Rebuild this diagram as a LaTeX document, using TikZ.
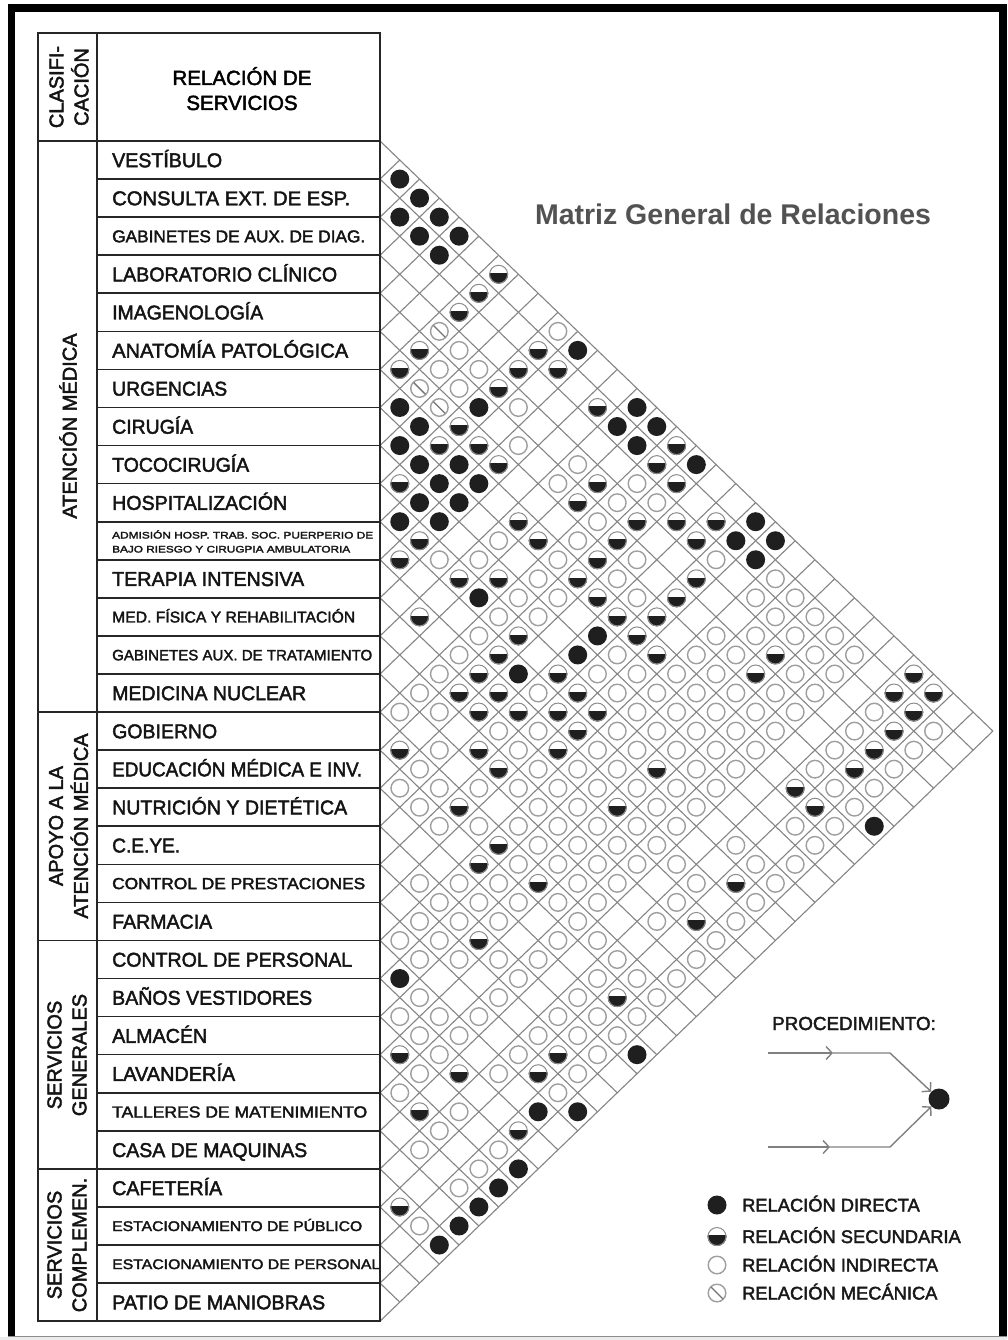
\documentclass[tikz,border=0pt]{standalone}
\usepackage{fontspec}
\usepackage{graphicx}
\setmainfont{Liberation Sans}
\newfontfamily\lf{Liberation Sans}[FakeBold=2.2]
\usetikzlibrary{arrows.meta}
\newcommand\lbl[3]{{\lf\fontsize{#1}{#1}\selectfont\resizebox{#2pt}{\height}{#3}}}
\newcommand\symB[2]{\fill[black!88] (#1,#2) circle[radius=9.5pt];}
\newcommand\symW[2]{\draw[black!38,line width=1.4pt] (#1,#2) circle[radius=8.8pt];}
\newcommand\symH[2]{\begin{scope}\clip (#1-11,#2-0.8) rectangle (#1+11,#2+11);\fill[black!88] (#1,#2) circle[radius=9.5pt];\end{scope}\draw[black!45,line width=1pt] (#1,#2) circle[radius=9pt];}
\newcommand\symM[2]{\draw[black!38,line width=1.4pt] (#1,#2) circle[radius=8.8pt];\draw[black!55,line width=1.3pt] (#1-5.8,#2-5.8) -- (#1+5.8,#2+5.8);}
\begin{document}
\begin{tikzpicture}[x=1pt,y=-1pt,
  tline/.style={line width=1.6pt,black!85},
  gline/.style={line width=1.1pt,black!48},
  rowlbl/.style={anchor=base west,inner sep=0pt,text=black!92},
  clslbl/.style={rotate=90,align=center,inner sep=0pt,text=black!92,font=\lf\fontsize{20}{25}\selectfont},
  legtxt/.style={anchor=base west,inner sep=0pt,text=black!90,font=\lf\fontsize{18.3}{18.3}\selectfont},
  procline/.style={line width=1.4pt,black!50}]
\useasboundingbox (0,0) rectangle (1007,1340);
\fill[white] (0,0) rectangle (1007,1340);
% frame
\fill[black] (8,4) rectangle (1007,12);
\fill[black] (8,4) rectangle (15,1337);
\fill[black] (999,4) rectangle (1007,1337);
\fill[black!8] (0,1337) rectangle (1007,1340);
\draw[black!45,line width=1.2pt] (8,1336.5) -- (1007,1336.5);
% grid
\foreach \k in {0,...,31}{
  \pgfmathsetmacro\bk{141+38.07*\k}
  \pgfmathsetmacro\dn{31-\k}
  \draw[gline] (380,\bk) -- ++(19.77*\dn,19.035*\dn);
  \draw[gline] (380,\bk) -- ++(19.77*\k,-19.035*\k);
}
% symbols
\foreach \i/\lst in {
1/{2/B,3/B,4/B,5/B,7/H,10/W,11/B,14/B,15/B,16/H,17/B,20/B,21/B,28/H,29/H},
2/{3/B,4/B,5/B,7/H,10/H,11/H,13/H,14/B,15/B,16/H,17/H,19/H,20/B,21/B,22/W,23/W,24/W,25/W,26/W,28/H,29/H,30/W},
3/{7/H,10/H,16/W,17/W,18/H,19/H,20/W,22/W,23/W,24/W,25/W,26/W,28/W,29/H,30/W},
4/{7/M,8/W,9/W,10/H,11/W,14/W,15/H,16/W,17/H,20/H,23/W,24/H,25/W,26/W,28/W,29/H,30/W},
5/{7/H,8/W,9/W,10/B,12/W,14/W,15/H,16/W,17/H,18/W,20/H,22/W,23/W,24/H,25/W,26/W,28/W,29/H,30/W},
6/{7/H,8/M,9/M,10/H,11/H,12/H,16/W,17/H,18/W,19/W,20/H,22/W,23/W,24/W,25/W,26/W,28/W,29/W,30/W,31/B},
7/{8/B,9/B,10/H,11/B,12/B,14/H,15/H,16/W,17/H,18/H,19/H,20/H,21/H,22/W,23/W,24/W,25/W,26/W,28/H,29/H,30/W},
8/{9/B,10/B,11/B,12/B,14/W,16/W,17/W,19/B,20/W,21/W,22/W,23/W,24/W,25/W,26/W,29/W,30/W},
9/{10/H,11/B,12/B,14/W,15/H,16/W,17/W,19/B,20/W,21/W,22/W,23/W,24/W,25/W,26/W,30/W},
10/{11/B,12/H,13/W,14/H,15/B,16/W,17/H,19/H,20/H,21/H,22/W,23/W,24/H,25/W,26/W,28/W,29/W,30/W},
11/{12/H,16/W,17/H,18/B,19/W,20/H,21/H,22/W,23/W,24/W,25/W,26/W,29/H,30/W},
12/{14/H,16/W,17/H,18/H,19/H,20/W,21/H,22/W,23/W,24/H,25/W,26/W,27/W,28/W,30/W},
13/{16/W,17/H,18/H,19/W,20/W,21/W,22/W,23/W,24/W,25/W,26/W,28/W,29/H,30/W},
14/{16/W,17/W,19/H,20/H,21/W,22/W,23/W,24/W,25/W,26/W,28/W,30/W},
15/{16/W,18/W,20/W,22/W,23/W,24/W,25/W,26/W,30/W},
16/{17/H,18/W,19/W,20/H,21/W,22/H,23/W,24/H,25/W,26/W,27/W,28/W,29/W,30/W},
17/{18/W,19/W,20/W,22/H,23/W,24/W,26/W,28/W,29/H,30/W},
18/{22/W,23/W,24/W,26/W,28/W,29/W,30/W,31/B},
19/{21/W,22/W,23/W,24/H,25/W,26/W,28/W,29/W,30/W},
20/{22/W,23/W,24/W,26/W,28/W,29/H,30/W},
21/{22/W,23/W,26/W,28/W,29/H,30/W,31/B},
22/{23/B,24/W,25/W,26/W,28/W,30/B},
23/{24/W,25/W,26/W,27/H,30/H},
24/{25/H,26/W,28/W,30/W,31/B},
25/{26/W,27/H,28/W,30/W,31/B},
26/{28/W,30/W,31/B},
27/{31/B},
28/{29/H,30/W,31/B}}{
  \foreach \j/\ty in \lst {
    \pgfmathsetmacro\cx{380+19.77*(\j-\i)}
    \pgfmathsetmacro\cy{141+19.035*(\i+\j-1)}
    \csname sym\ty\endcsname{\cx}{\cy}
  }
}
% table
\draw[tline] (38,33) rectangle (380,1321);
\draw[tline] (97,33) -- (97,1321);
\draw[tline] (38,141) -- (380,141);
\foreach \k in {1,...,30}{\draw[tline] (97,141+38.07*\k) -- (380,141+38.07*\k);}
\foreach \k in {15,21,27}{\draw[tline] (38,141+38.07*\k) -- (97,141+38.07*\k);}
% header
\node[anchor=base,inner sep=0pt,font=\lf\fontsize{20.5}{20.5}\selectfont] (hrel1) at (242,85) {RELACIÓN DE};
\node[anchor=base,inner sep=0pt,font=\lf\fontsize{20.5}{20.5}\selectfont] (hrel2) at (242,110) {SERVICIOS};
\node[clslbl] (hcls) at (69,87) {CLASIFI-\\CACIÓN};
\node[clslbl] (gatm) at (68,426) {ATENCIÓN MÉDICA};
\node[clslbl] (gapo) at (68.5,826) {APOYO A LA\\ATENCIÓN MÉDICA};
\node[clslbl] (gsg) at (67,1055) {SERVICIOS\\GENERALES};
\node[clslbl] (gsc) at (67,1245) {SERVICIOS\\COMPLEMEN.};
% row labels
\foreach \i/\fs/\w/\txt in {
1/20/110/VESTÍBULO, 2/20/238/CONSULTA EXT. DE ESP., 3/17/253/GABINETES DE AUX. DE DIAG.,
4/20/225/LABORATORIO CLÍNICO, 5/20/151/IMAGENOLOGÍA, 6/20/236/ANATOMÍA PATOLÓGICA,
7/20/115/URGENCIAS, 8/20/81/CIRUGÍA, 9/20/137/TOCOCIRUGÍA, 10/20/175/HOSPITALIZACIÓN,
12/20/192/TERAPIA INTENSIVA, 13/15.6/243/MED. FÍSICA Y REHABILITACIÓN,
14/15/260/GABINETES AUX. DE TRATAMIENTO, 15/20/194/MEDICINA NUCLEAR, 16/20/105/GOBIERNO,
17/20/250/EDUCACIÓN MÉDICA E INV., 18/20/235/NUTRICIÓN Y DIETÉTICA, 19/20/68/C.E.YE.,
20/16/253/CONTROL DE PRESTACIONES, 21/20/100/FARMACIA, 22/20/240/CONTROL DE PERSONAL,
23/20/200/BAÑOS VESTIDORES, 24/20/95/ALMACÉN, 25/20/123/LAVANDERÍA,
26/16/255/TALLERES DE MATENIMIENTO, 27/20/195/CASA DE MAQUINAS, 28/20/110/CAFETERÍA,
29/14/250/ESTACIONAMIENTO DE PÚBLICO, 30/14/268/ESTACIONAMIENTO DE PERSONAL,
31/20/213/PATIO DE MANIOBRAS}{
  \node[rowlbl] (r\i) at (112,{160+38.07*(\i-1)+0.36*\fs}) {\lbl{\fs}{\w}{\txt}};
}
\node[rowlbl] (r11a) at (112,538.5) {\lbl{9.5}{261}{ADMISIÓN HOSP. TRAB. SOC. PUERPERIO DE}};
\node[rowlbl] (r11b) at (112,552.5) {\lbl{9.5}{238}{BAJO RIESGO Y CIRUGPIA AMBULATORIA}};
% title
\node[anchor=base,inner sep=0pt,text=black!68,font=\bfseries\fontsize{28.5}{28.5}\selectfont] (title) at (733,225) {Matriz General de Relaciones};
% procedure
\node[legtxt,font=\lf\fontsize{18.8}{18.8}\selectfont] (proc) at (772,1030) {PROCEDIMIENTO:};
\node[circle,fill=black!88,minimum size=21pt,inner sep=0pt] (pdot) at (939,1099) {};
\coordinate (pa1) at (768,1053); \coordinate (pa2) at (833,1053); \coordinate (pa3) at (890,1053);
\coordinate (pb1) at (768,1147); \coordinate (pb2) at (830,1147); \coordinate (pb3) at (890,1147);
\draw[procline,-{Straight Barb[length=6pt,width=13pt]}] (pa1) -- (pa2);
\draw[procline,-{Straight Barb[length=6pt,width=13pt]}] (pa2) -- (pa3) -- (pdot);
\draw[procline,-{Straight Barb[length=6pt,width=13pt]}] (pb1) -- (pb2);
\draw[procline,-{Straight Barb[length=6pt,width=13pt]}] (pb2) -- (pb3) -- (pdot);
% legend
\symB{717}{1205}
\symH{717}{1236.5}
\symW{717}{1265}
\symM{717}{1293}
\node[legtxt] (lg1) at (742,1211.5) {RELACIÓN DIRECTA};
\node[legtxt] (lg2) at (742,1243) {RELACIÓN SECUNDARIA};
\node[legtxt] (lg3) at (742,1271.5) {RELACIÓN INDIRECTA};
\node[legtxt] (lg4) at (742,1299.5) {RELACIÓN MECÁNICA};
\end{tikzpicture}
\end{document}
